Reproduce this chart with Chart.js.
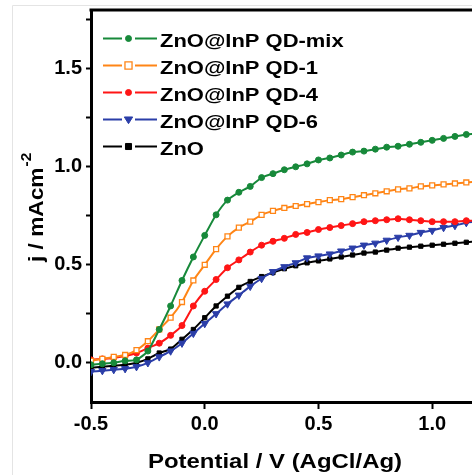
<!DOCTYPE html>
<html lang="en">
<head>
<meta charset="UTF-8">
<title>ZnO@InP QD photocurrent</title>
<script src="https://cdn.jsdelivr.net/npm/chart.js"></script>
<style>
  html, body { margin: 0; padding: 0; background: #fff; }
  #lsvChart { display: block; }
</style>
</head>
<body>
<canvas id="lsvChart" width="472" height="475"></canvas>
<script>
// potential (V vs AgCl/Ag)
const potential = [-0.50, -0.45, -0.40, -0.35, -0.30, -0.25, -0.20, -0.15, -0.10, -0.05,
                   0.00, 0.05, 0.10, 0.15, 0.20, 0.25, 0.30, 0.35, 0.40, 0.45,
                   0.50, 0.55, 0.60, 0.65, 0.70, 0.75, 0.80, 0.85, 0.90, 0.95,
                   1.00, 1.05, 1.10, 1.15, 1.20];

// current density (mA cm-2)
const qdMix = [-0.01, -0.005, 0.0, 0.01, 0.015, 0.06, 0.17, 0.29, 0.42, 0.54,
               0.65, 0.755, 0.83, 0.87, 0.90, 0.945, 0.965, 0.985, 1.0, 1.015,
               1.035, 1.045, 1.06, 1.075, 1.08, 1.09, 1.10, 1.105, 1.115, 1.125,
               1.135, 1.145, 1.155, 1.165, 1.17];
const qd1 = [0.01, 0.02, 0.03, 0.04, 0.065, 0.11, 0.17, 0.23, 0.31, 0.42,
             0.50, 0.58, 0.645, 0.69, 0.72, 0.755, 0.775, 0.79, 0.80, 0.81,
             0.82, 0.83, 0.835, 0.845, 0.855, 0.865, 0.875, 0.885, 0.89, 0.90,
             0.905, 0.91, 0.915, 0.92, 0.925];
const qd4 = [0.015, 0.02, 0.025, 0.035, 0.05, 0.075, 0.10, 0.14, 0.19, 0.29,
             0.365, 0.425, 0.485, 0.525, 0.565, 0.60, 0.62, 0.635, 0.655, 0.665,
             0.68, 0.69, 0.70, 0.71, 0.72, 0.725, 0.73, 0.735, 0.73, 0.725,
             0.72, 0.72, 0.72, 0.725, 0.725];
const qd6 = [-0.045, -0.04, -0.035, -0.03, -0.02, 0.0, 0.03, 0.06, 0.10, 0.15,
             0.20, 0.25, 0.30, 0.345, 0.39, 0.43, 0.465, 0.49, 0.51, 0.535,
             0.545, 0.555, 0.57, 0.585, 0.60, 0.61, 0.625, 0.64, 0.65, 0.665,
             0.675, 0.69, 0.70, 0.715, 0.72];
const zno = [-0.025, -0.02, -0.015, -0.01, 0.0, 0.02, 0.05, 0.07, 0.12, 0.17,
             0.23, 0.29, 0.34, 0.385, 0.415, 0.44, 0.46, 0.48, 0.495, 0.51,
             0.52, 0.53, 0.54, 0.55, 0.56, 0.565, 0.575, 0.585, 0.59, 0.595,
             0.60, 0.605, 0.61, 0.615, 0.62];

const seriesLabels = ['ZnO@InP QD-mix', 'ZnO@InP QD-1', 'ZnO@InP QD-4', 'ZnO@InP QD-6', 'ZnO'];
const xTicks = [-0.5, 0.0, 0.5, 1.0];
const yTicks = [0.0, 0.25, 0.5, 0.75, 1.0, 1.25, 1.5, 1.75];

const FONT = 'Arial, "Liberation Sans", sans-serif';

function pts(ys) {
    return potential.map((x, i) => ({ x: x, y: ys[i] }));
}

// marker style for each series
const styles = [
    { color: '#17893a', shape: 'circle', fill: '#17893a', r: 3 },
    { color: '#ff8516', shape: 'rect', fill: '#ffffff', r: 3.5 },
    { color: '#ff1515', shape: 'circle', fill: '#ff1515', r: 3 },
    { color: '#2b3ea8', shape: 'triangle', fill: '#2b3ea8', r: 4.2, rot: 180 },
    { color: '#000000', shape: 'rect', fill: '#000000', r: 3 }
];
const seriesData = [qdMix, qd1, qd4, qd6, zno];

const datasets = seriesData.map((ys, i) => ({
    label: seriesLabels[i],
    data: pts(ys),
    showLine: true,
    borderColor: styles[i].color,
    backgroundColor: styles[i].fill,
    borderWidth: 2,
    tension: 0.2,
    pointStyle: styles[i].shape,
    pointRadius: styles[i].r,
    pointRotation: styles[i].rot || 0,
    pointBackgroundColor: styles[i].fill,
    pointBorderColor: styles[i].color,
    pointBorderWidth: styles[i].fill === '#ffffff' ? 1.3 : 1
}));

function stretchText(ctx, text, x, y, sx, align) {
    ctx.save();
    ctx.translate(x, y);
    ctx.scale(sx, 1);
    ctx.textAlign = align || 'left';
    ctx.fillText(text, 0, 0);
    ctx.restore();
}

function drawMarker(ctx, st, x, y) {
    ctx.save();
    ctx.fillStyle = st.fill;
    ctx.strokeStyle = st.color;
    ctx.lineWidth = st.fill === '#ffffff' ? 1.3 : 1;
    ctx.beginPath();
    if (st.shape === 'circle') {
        ctx.arc(x, y, st.r, 0, Math.PI * 2);
    } else if (st.shape === 'rect') {
        const s = st.r * Math.SQRT2 / 1.4;
        ctx.rect(x - s, y - s, 2 * s, 2 * s);
    } else {
        const r = st.r;
        ctx.moveTo(x - r, y - r * 0.6);
        ctx.lineTo(x + r, y - r * 0.6);
        ctx.lineTo(x, y + r);
        ctx.closePath();
    }
    ctx.fill();
    ctx.stroke();
    ctx.restore();
}

// light frame, top border, legend and axis titles
const decorPlugin = {
    id: 'decor',
    beforeDraw(chart) {
        const ctx = chart.ctx;
        ctx.save();
        ctx.strokeStyle = '#e4e4e4';
        ctx.lineWidth = 1;
        ctx.beginPath();
        ctx.moveTo(12.5, 475);
        ctx.lineTo(12.5, 5.5);
        ctx.lineTo(472, 5.5);
        ctx.stroke();
        ctx.restore();
    },
    afterDraw(chart) {
        const ctx = chart.ctx;
        const area = chart.chartArea;
        ctx.save();
        // top border
        ctx.strokeStyle = '#000';
        ctx.lineWidth = 3;
        ctx.beginPath();
        ctx.moveTo(area.left - 1.5, area.top);
        ctx.lineTo(area.right, area.top);
        ctx.stroke();

        // legend
        ctx.fillStyle = '#000';
        ctx.font = 'bold 18px ' + FONT;
        ctx.textBaseline = 'alphabetic';
        seriesLabels.forEach((lab, i) => {
            const base = 47 + i * 27;
            const ly = base - 8.5;
            const st = styles[i];
            ctx.strokeStyle = st.color;
            ctx.lineWidth = 2;
            ctx.beginPath();
            ctx.moveTo(103, ly); ctx.lineTo(122, ly);
            ctx.moveTo(135, ly); ctx.lineTo(157, ly);
            ctx.stroke();
            drawMarker(ctx, st, 128.5, ly);
            ctx.fillStyle = '#000';
            stretchText(ctx, lab, 160, base, 1.22, 'left');
        });

        // x title
        ctx.font = 'bold 21px ' + FONT;
        stretchText(ctx, 'Potential / V (AgCl/Ag)', 275, 468, 1.14, 'center');

        // y title, rotated, with superscript
        ctx.save();
        ctx.translate(43, 262);
        ctx.rotate(-Math.PI / 2);
        ctx.font = 'bold 21px ' + FONT;
        const main = 'j / mAcm';
        const w = ctx.measureText(main).width * 1.08;
        stretchText(ctx, main, 0, 0, 1.08, 'left');
        ctx.font = 'bold 14px ' + FONT;
        stretchText(ctx, '-2', w + 1, -12, 1.1, 'left');
        ctx.restore();
        ctx.restore();
    }
};

const ctx = document.getElementById('lsvChart').getContext('2d');
const lsvChart = new Chart(ctx, {
    type: 'scatter',
    data: { datasets: datasets },
    options: {
        responsive: false,
        animation: false,
        devicePixelRatio: 1,
        layout: { autoPadding: false, padding: { top: 10, right: 0, bottom: 0, left: 0 } },
        plugins: {
            legend: { display: false },
            tooltip: { enabled: false }
        },
        scales: {
            x: {
                type: 'linear',
                min: -0.5,
                max: 1.175,
                afterBuildTicks: s => { s.ticks = xTicks.map(v => ({ value: v })); },
                afterFit: s => { s.height = 73; s.paddingLeft = 0; s.paddingRight = 0; },
                grid: { drawOnChartArea: false, drawTicks: true, tickLength: 7, tickColor: '#000', tickWidth: 2 },
                border: { display: true, color: '#000', width: 3 },
                ticks: {
                    color: '#000',
                    padding: 3,
                    maxRotation: 0,
                    font: { family: FONT, size: 20, weight: 'bold' },
                    callback: v => Number(v).toFixed(1)
                }
            },
            y: {
                type: 'linear',
                min: -0.2,
                max: 1.8,
                afterBuildTicks: s => { s.ticks = yTicks.map(v => ({ value: v })); },
                afterFit: s => { s.width = 91; s.paddingTop = 0; s.paddingBottom = 0; },
                grid: { drawOnChartArea: false, drawTicks: true, tickLength: 5, tickColor: '#000', tickWidth: 2 },
                border: { display: true, color: '#000', width: 3 },
                ticks: {
                    color: '#000',
                    padding: 4,
                    font: { family: FONT, size: 20, weight: 'bold' },
                    callback: v => (Math.abs(v * 2 - Math.round(v * 2)) < 1e-6 ? Number(v).toFixed(1) : '')
                }
            }
        }
    },
    plugins: [decorPlugin]
});
</script>
</body>
</html>
